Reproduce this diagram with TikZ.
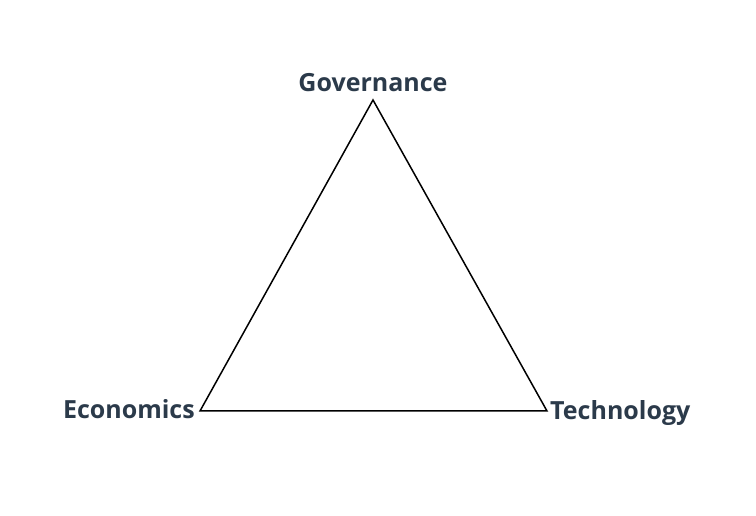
\documentclass[tikz,border=0pt]{standalone}
\usepackage{fontspec}
\setmainfont{Open Sans}
\definecolor{labelcol}{HTML}{2B3A4A}
\tikzset{
  pillar/.style={font=\bfseries\fontsize{25}{29}\selectfont, text=labelcol, inner sep=0pt}
}
\begin{document}
\begin{tikzpicture}[x=1pt,y=1pt]
  \useasboundingbox (0,0) rectangle (756,516);
  \coordinate (gov) at (373,416);
  \coordinate (eco) at (200,105);
  \coordinate (tec) at (547,105);
  \draw[line width=1.5pt, line join=miter] (gov) -- (eco) -- (tec) -- cycle;
  \node[pillar, anchor=base] (govlabel) at (373,424) {Governance};
  \node[pillar, anchor=base east] (ecolabel) at (195,97) {Economics};
  \node[pillar, anchor=base west] (teclabel) at (550,96) {Technology};
\end{tikzpicture}
\end{document}
